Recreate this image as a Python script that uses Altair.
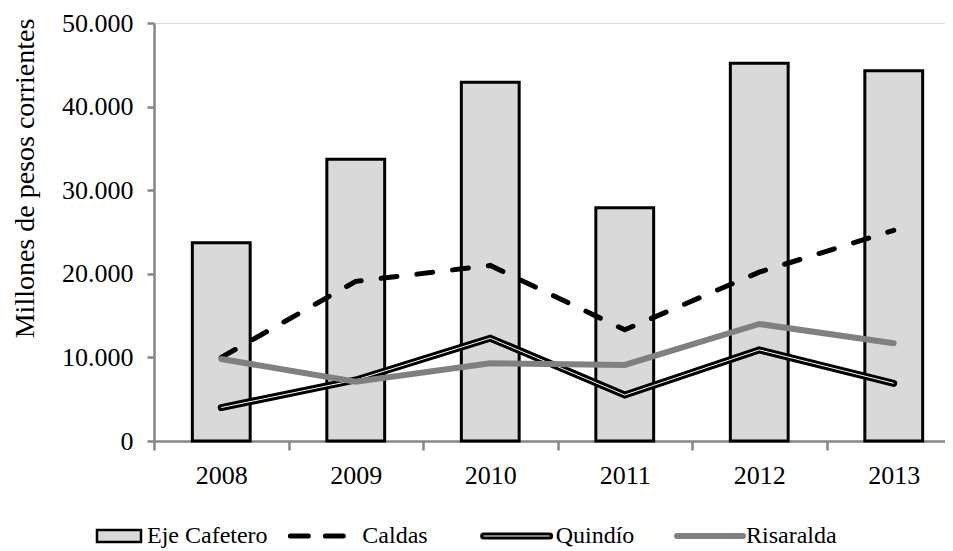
import altair as alt
import pandas as pd

years = ["2008", "2009", "2010", "2011", "2012", "2013"]
eje_cafetero = [23700, 33700, 42900, 27900, 45200, 44300]
caldas = [10000, 19100, 21000, 13300, 20200, 25200]
quindio = [4000, 7300, 12300, 5500, 10900, 6900]
risaralda = [9800, 7100, 9300, 9100, 14000, 11700]
series = ["Eje Cafetero", "Caldas", "Quindío", "Risaralda"]
y_ticks = [0, 10000, 20000, 30000, 40000, 50000]

rows = []
for name, vals in zip(series, [eje_cafetero, caldas, quindio, risaralda]):
    for yr, v in zip(years, vals):
        rows.append({"year": yr, "serie": name, "valor": v})
data = pd.DataFrame(rows)
legend_data = pd.DataFrame({"serie": series})

FONT = "Liberation Serif"
AX = "#868686"

xscale = alt.Scale(domain=years, range=[0, 807], paddingInner=0, paddingOuter=0)
yscale = alt.Scale(domain=[0, 50000], nice=False)

x_axis = alt.Axis(
    title=None, domainColor=AX, domainWidth=2.5, tickColor=AX, tickWidth=2.5,
    tickSize=9, tickBand="extent", labelFont=FONT, labelFontSize=26,
    labelColor="black", labelPadding=12, labelAngle=0, grid=False,
)
y_axis = alt.Axis(
    values=y_ticks, domainColor=AX, domainWidth=2.5, tickColor=AX, tickWidth=2.5,
    tickSize=7, labelFont=FONT, labelFontSize=26, labelColor="black",
    labelPadding=14, grid=False,
    labelExpr="replace(format(datum.value, ',d'), ',', '.')",
    title="Millones de pesos corrientes", titleFont=FONT, titleFontSize=28,
    titleFontWeight="normal", titleColor="black", titleAngle=270,
    titleX=-129, titleY=155, titleAlign="center", titleBaseline="middle",
)

base = alt.Chart(data)
X = alt.X("year:N", scale=xscale)
Y = alt.Y("valor:Q", scale=yscale)

bars = base.transform_filter(alt.datum.serie == "Eje Cafetero").mark_bar(
    fill="#d9d9d9", stroke="black", strokeWidth=3, width=alt.RelativeBandSize(0.43)
).encode(x=alt.X("year:N", scale=xscale, axis=x_axis), y=alt.Y("valor:Q", scale=yscale, axis=y_axis))

l_caldas = base.transform_filter(alt.datum.serie == "Caldas").mark_line(
    color="black", strokeWidth=5, strokeDash=[16, 20], strokeCap="round"
).encode(x=X, y=Y)
l_quin_outer = base.transform_filter(alt.datum.serie == "Quindío").mark_line(
    color="black", strokeWidth=7, strokeCap="round"
).encode(x=X, y=Y)
l_quin_inner = base.transform_filter(alt.datum.serie == "Quindío").mark_line(
    color="white", strokeWidth=1
).encode(x=X, y=Y)
l_risa = base.transform_filter(alt.datum.serie == "Risaralda").mark_line(
    color="#808080", strokeWidth=6, strokeCap="round"
).encode(x=X, y=Y)

main = alt.layer(bars, l_caldas, l_quin_outer, l_quin_inner, l_risa)

# legend
lscale = alt.Scale(type="point", domain=series, range=[-57, 523], padding=0)
LX = alt.X("serie:N", scale=lscale, axis=None)
LX2 = alt.X2("serie:N")
LY = 513
lbase = alt.Chart(legend_data)

leg_rect = lbase.transform_filter(alt.datum.serie == "Eje Cafetero").mark_rect(
    fill="#d9d9d9", stroke="black", strokeWidth=2.5, x2Offset=44
).encode(x=LX, x2=LX2, y=alt.value(LY - 6), y2=alt.value(LY + 6))
leg_caldas = lbase.transform_filter(alt.datum.serie == "Caldas").mark_rule(
    color="black", strokeWidth=5, strokeDash=[18, 17], strokeCap="round", x2Offset=53
).encode(x=LX, x2=LX2, y=alt.value(LY))
leg_q1 = lbase.transform_filter(alt.datum.serie == "Quindío").mark_rule(
    color="black", strokeWidth=7, strokeCap="round", x2Offset=66
).encode(x=LX, x2=LX2, y=alt.value(LY))
leg_q2 = lbase.transform_filter(alt.datum.serie == "Quindío").mark_rule(
    color="white", strokeWidth=1, x2Offset=66
).encode(x=LX, x2=LX2, y=alt.value(LY))
leg_r = lbase.transform_filter(alt.datum.serie == "Risaralda").mark_rule(
    color="#808080", strokeWidth=6, strokeCap="round", x2Offset=66
).encode(x=LX, x2=LX2, y=alt.value(LY))

text_dx = {"Eje Cafetero": 50, "Caldas": 72, "Quindío": 72, "Risaralda": 69}
leg_texts = [
    lbase.transform_filter(alt.datum.serie == s).mark_text(
        align="left", baseline="middle", dx=text_dx[s], font=FONT, fontSize=24, color="black"
    ).encode(x=LX, y=alt.value(LY), text="serie:N")
    for s in series
]

legend = alt.layer(leg_rect, leg_caldas, leg_q1, leg_q2, leg_r, *leg_texts)

chart = alt.layer(main, legend).resolve_scale(x="independent").properties(
    width=791, height=418,
    autosize=alt.AutoSizeParams(type="none"),
    padding={"left": 146, "top": 15, "right": 0, "bottom": 108},
).configure_view(strokeWidth=0, stroke="transparent").configure(background="white")

chart.save("out.html", embed_options={"renderer": "svg", "actions": False})
